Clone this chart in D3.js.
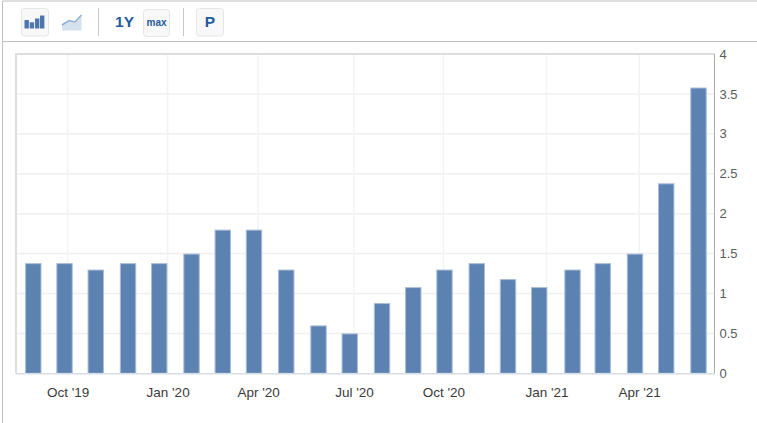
<!DOCTYPE html>
<html>
<head>
<meta charset="utf-8">
<script src="https://cdn.jsdelivr.net/npm/d3@7"></script>
<style>
  body { margin: 0; background: #fff; }
  svg { display: block; font-family: "Liberation Sans", Arial, sans-serif; }
</style>
</head>
<body>
<svg></svg>
<script>
const size = {w: 757, h: 423};
const plot = {l: 16, r: 714.5, t: 54, b: 373.3};

// month-end dates the bars sit on, and the values
const barDates = ['2019-08-31', '2019-09-30', '2019-10-30', '2019-11-30', '2019-12-30', '2020-01-30',
    '2020-02-29', '2020-03-30', '2020-04-30', '2020-05-31', '2020-06-30', '2020-07-31', '2020-08-30',
    '2020-09-29', '2020-10-30', '2020-11-29', '2020-12-29', '2021-01-30', '2021-02-28', '2021-03-31',
    '2021-04-30', '2021-05-31'];
const barValues = [1.38, 1.38, 1.3, 1.38, 1.38, 1.5, 1.8, 1.8, 1.3, 0.6, 0.5, 0.88, 1.08, 1.3, 1.38,
    1.18, 1.08, 1.3, 1.38, 1.5, 2.38, 3.58];
// the source axis is not quite linear in time, so the tick dates are where the gridlines fall
const tickDates = ['2019-10-03', '2020-01-07', '2020-04-03', '2020-07-04', '2020-09-28', '2021-01-05', '2021-04-04'];
const tickLabels = ["Oct '19", "Jan '20", "Apr '20", "Jul '20", "Oct '20", "Jan '21", "Apr '21"];
const yTicks = [0, 0.5, 1, 1.5, 2, 2.5, 3, 3.5, 4];

const parse = d3.utcParse('%Y-%m-%d');
const dates = barDates.map(parse);

const svg = d3.select('svg')
    .attr('width', size.w)
    .attr('height', size.h)
    .attr('viewBox', [0, 0, size.w, size.h]);

const x = d3.scaleUtc()
    .domain([dates[0], dates[dates.length - 1]])
    .range([33.3, 698.5]);
const y = d3.scaleLinear().domain([0, 4]).range([plot.b, plot.t]);

drawToolbar();

// grid
svg.append('g')
    .selectAll('line.h')
    .data(yTicks.slice(1, -1))
    .join('line')
    .classed('h', true)
    .attr('x1', plot.l)
    .attr('x2', plot.r)
    .attr('y1', d => y(d))
    .attr('y2', d => y(d))
    .attr('stroke', '#f0f0f0')
    .attr('stroke-width', 1.5);

svg.append('g')
    .selectAll('line.v')
    .data(tickDates.map(parse))
    .join('line')
    .classed('v', true)
    .attr('x1', d => x(d))
    .attr('x2', d => x(d))
    .attr('y1', plot.t)
    .attr('y2', plot.b)
    .attr('stroke', '#f3f3f3')
    .attr('stroke-width', 1.5);

// plot frame
svg.append('path')
    .attr('d', `M${plot.l},${plot.b}V${plot.t}H${plot.r}`)
    .attr('fill', 'none')
    .attr('stroke', '#dedede')
    .attr('stroke-width', 2);

// bars
svg.append('g')
    .selectAll('rect')
    .data(barValues)
    .join('rect')
    .attr('x', (d, i) => x(dates[i]) - 7.7)
    .attr('width', 15.4)
    .attr('y', d => y(d) + 0.5)
    .attr('height', d => plot.b - y(d) - 0.5)
    .attr('fill', '#5b82b1')
    .attr('stroke', '#a9bdd9')
    .attr('stroke-width', 1);

// axes
const xAxis = svg.append('g')
    .attr('transform', `translate(0,${plot.b})`)
    .call(d3.axisBottom(x)
        .tickValues(tickDates.map(parse))
        .tickFormat((d, i) => tickLabels[i])
        .tickSize(0)
        .tickPadding(14));
xAxis.select('.domain')
    .attr('d', `M${plot.l},0.5H${plot.r}`)
    .attr('stroke', '#d8dce6')
    .attr('stroke-width', 1.5);
xAxis.selectAll('text')
    .attr('font-size', 13.5)
    .attr('font-family', null)
    .attr('fill', '#3a3a3a');

const yAxis = svg.append('g')
    .attr('transform', `translate(${plot.r},0)`)
    .call(d3.axisRight(y)
        .tickValues(yTicks)
        .tickFormat(d => d)
        .tickSize(0)
        .tickPadding(5));
yAxis.select('.domain')
    .attr('d', `M0,${plot.t}V${plot.b}`)
    .attr('stroke', '#ababab');
yAxis.selectAll('text')
    .attr('font-size', 13)
    .attr('font-family', null)
    .attr('fill', '#5a5a5a');

function drawToolbar() {
    const blue = '#1f5c9e';
    const g = svg.append('g');

    // page edges
    g.append('path')
        .attr('d', `M2.5,${size.h}V1H${size.w}M2.5,41.5H${size.w}`)
        .attr('fill', 'none')
        .attr('stroke', '#c0c0c0');

    // toolbar buttons
    g.selectAll('rect.btn')
        .data([[21.5, 8.5, 27, 27.5], [143.5, 9.5, 26, 27], [196.5, 8.5, 27, 27.5]])
        .join('rect')
        .classed('btn', true)
        .attr('x', d => d[0])
        .attr('y', d => d[1])
        .attr('width', d => d[2])
        .attr('height', d => d[3])
        .attr('rx', 3)
        .attr('fill', '#f8f8f8')
        .attr('stroke', '#e6e6e6');

    g.selectAll('line.sep')
        .data([98.5, 183.5])
        .join('line')
        .classed('sep', true)
        .attr('x1', d => d)
        .attr('x2', d => d)
        .attr('y1', 8)
        .attr('y2', 36)
        .attr('stroke', '#c8c8c8');

    // bar icon
    g.selectAll('rect.ico')
        .data([[24.5, 20], [29.7, 22.3], [35, 18.5], [40, 15.5]])
        .join('rect')
        .classed('ico', true)
        .attr('x', d => d[0])
        .attr('y', d => d[1])
        .attr('width', 4.4)
        .attr('height', d => 28.5 - d[1])
        .attr('fill', '#4b77ad');

    // area icon
    g.append('path')
        .attr('d', 'M62,25L69,20.5L75,22L81.5,15V30.5H62Z')
        .attr('fill', '#d6e1ef');
    g.append('path')
        .attr('d', 'M62,25L69,20.5L75,22L81.5,15')
        .attr('fill', 'none')
        .attr('stroke', '#8fb0d6')
        .attr('stroke-width', 1.5);

    g.selectAll('text')
        .data([['1Y', 124.5, 15.5, 26.5], ['max', 156.5, 10, 26], ['P', 210, 15.5, 27]])
        .join('text')
        .text(d => d[0])
        .attr('x', d => d[1])
        .attr('y', d => d[3])
        .attr('font-size', d => d[2])
        .attr('font-weight', 'bold')
        .attr('text-anchor', 'middle')
        .attr('fill', blue);
}
</script>
</body>
</html>
